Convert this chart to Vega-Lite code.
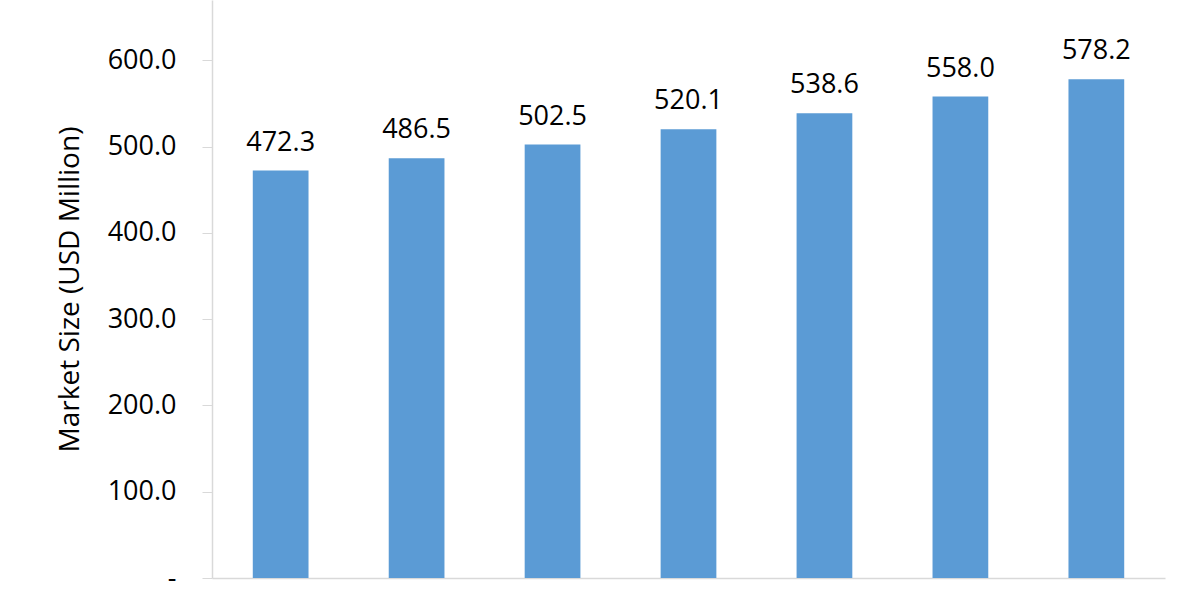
{
  "$schema": "https://vega.github.io/schema/vega-lite/v6.json",
  "autosize": {"type": "none"},
  "width": 953,
  "height": 578,
  "padding": {"left": 212, "top": 0, "right": 35, "bottom": 22},
  "background": "white",
  "data": {
    "values": [
      {"year": "2024", "size": 472.3},
      {"year": "2025", "size": 486.5},
      {"year": "2026", "size": 502.5},
      {"year": "2027", "size": 520.1},
      {"year": "2028", "size": 538.6},
      {"year": "2029", "size": 558.0},
      {"year": "2030", "size": 578.2}
    ]
  },
  "encoding": {
    "x": {
      "field": "year",
      "type": "ordinal",
      "scale": {"paddingInner": 0.59, "paddingOuter": 0.3},
      "axis": {"title": null, "labels": false, "ticks": false, "domainColor": "#d9d9d9", "domainWidth": 1.5}
    },
    "y": {
      "field": "size",
      "type": "quantitative",
      "scale": {"domain": [0, 670], "nice": false},
      "axis": {
        "title": "Market Size (USD Million)",
        "titleFont": "Open Sans",
        "titleFontSize": 28,
        "titleFontWeight": "normal",
        "titleColor": "black",
        "titlePadding": 23,
        "values": [0, 100, 200, 300, 400, 500, 600],
        "labelExpr": "datum.value == 0 ? '-' : format(datum.value, '.1f')",
        "labelFont": "Open Sans",
        "labelFontSize": 27,
        "labelColor": "black",
        "labelPadding": 26,
        "tickSize": 10,
        "tickColor": "#d9d9d9",
        "domainColor": "#d9d9d9",
        "domainWidth": 1.5,
        "grid": false
      }
    }
  },
  "layer": [
    {"mark": {"type": "bar", "color": "#5b9bd5"}},
    {
      "mark": {"type": "text", "baseline": "bottom", "dy": -14, "font": "Open Sans", "fontSize": 27, "color": "black"},
      "encoding": {"text": {"field": "size", "type": "quantitative", "format": ".1f"}}
    }
  ],
  "config": {"view": {"stroke": null}}
}
